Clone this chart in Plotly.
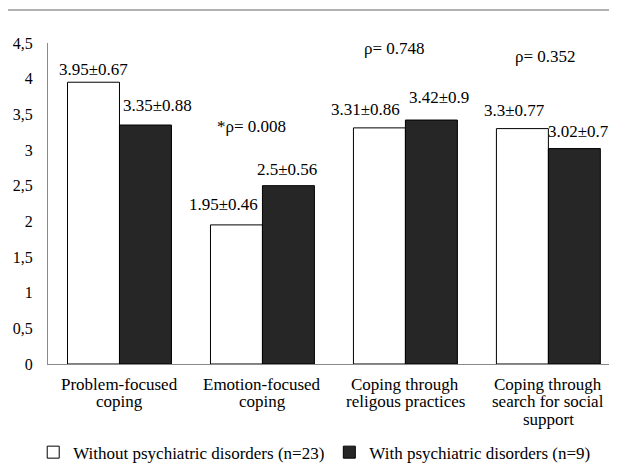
import plotly.graph_objects as go

categories = ["Problem-focused<br>coping", "Emotion-focused<br>coping",
              "Coping through<br>religous practices",
              "Coping through<br>search for social<br>support"]
without_mean = [3.95, 1.95, 3.31, 3.3]
without_sd = [0.67, 0.46, 0.86, 0.77]
with_mean = [3.35, 2.5, 3.42, 3.02]
with_sd = [0.88, 0.56, 0.9, 0.7]
p_labels = ["*ρ= 0.046", "*ρ= 0.008", "ρ= 0.748", "ρ= 0.352"]
p_ypos = [4.665, 3.324, 4.427, 4.316]
tick_vals = [0, 0.5, 1, 1.5, 2, 2.5, 3, 3.5, 4, 4.5]
tick_text = ["0", "0,5", "1", "1,5", "2", "2,5", "3", "3,5", "4", "4,5"]
series_names = ["Without psychiatric disorders (n=23)", "With psychiatric disorders (n=9)"]

FONT = "Liberation Serif"
FS = 17

fig = go.Figure()
fig.add_trace(go.Bar(x=categories, y=without_mean, name=series_names[0],
                     marker=dict(color="white", line=dict(color="black", width=1))))
fig.add_trace(go.Bar(x=categories, y=with_mean, name=series_names[1],
                     marker=dict(color="#262626", line=dict(color="black", width=1))))

# label offsets (px)
w_xshift = [-25.5, -38.5, -40, -34]
w_yshift = [13, 20.5, 18, 18]
b_xshift = [38.5, 24.5, 33.5, 30]
b_yshift = [20, 16, 23, 17]
p_xshift = [-8.5, -10.5, -11.4, -2.4]
line_yshift = [-20, -37.5, -55]

annotations = []
for i, c in enumerate(categories):
    annotations.append(dict(x=c, y=without_mean[i], text=f"{without_mean[i]}±{without_sd[i]}",
                            xshift=w_xshift[i], yshift=w_yshift[i], showarrow=False,
                            xanchor="center", yanchor="middle",
                            font=dict(family=FONT, size=FS, color="black")))
    annotations.append(dict(x=c, y=with_mean[i], text=f"{with_mean[i]}±{with_sd[i]}",
                            xshift=b_xshift[i], yshift=b_yshift[i], showarrow=False,
                            xanchor="center", yanchor="middle",
                            font=dict(family=FONT, size=FS, color="black")))
    annotations.append(dict(x=c, y=p_ypos[i], text=p_labels[i], xshift=p_xshift[i],
                            showarrow=False, xanchor="center", yanchor="middle",
                            font=dict(family=FONT, size=FS, color="black")))
    # category label, one annotation per line (tighter leading than tick labels)
    for k, line in enumerate(c.split("<br>")):
        annotations.append(dict(x=c, y=0, yref="paper", text=line, yshift=line_yshift[k],
                                showarrow=False, xanchor="center", yanchor="middle",
                                borderpad=0,
                                font=dict(family=FONT, size=FS, color="black")))

# page has an 8px body margin: figure is shifted, so compensate in size
fig.update_layout(
    width=609, height=463,
    margin=dict(l=40, r=0, t=35.4, b=105),
    paper_bgcolor="white", plot_bgcolor="white",
    barmode="group", bargap=0.273, bargroupgap=0,
    font=dict(family=FONT, size=FS, color="black"),
    showlegend=True,
    legend=dict(orientation="h", x=-0.026, xanchor="left", y=-0.276, yanchor="middle",
                font=dict(family=FONT, size=FS, color="black"),
                traceorder="normal", bgcolor="rgba(0,0,0,0)"),
    annotations=annotations,
    shapes=[dict(type="line", xref="paper", yref="paper", x0=-0.072, x1=0.991,
                 y0=1.1025, y1=1.1025, line=dict(color="#999999", width=1.5))],
)
fig.update_xaxes(range=[-0.5, 3.48], showline=True, linecolor="#8a8a8a", linewidth=1,
                 ticks="", showgrid=False, showticklabels=False, automargin=False)
fig.update_yaxes(range=[0, 4.5], tickvals=tick_vals, ticktext=tick_text, showline=True,
                 linecolor="#8a8a8a", linewidth=1, ticks="", showgrid=False, zeroline=False,
                 tickfont=dict(family=FONT, size=16, color="black"), ticklabelstandoff=11,
                 automargin=False)

fig.write_html("out.html")
